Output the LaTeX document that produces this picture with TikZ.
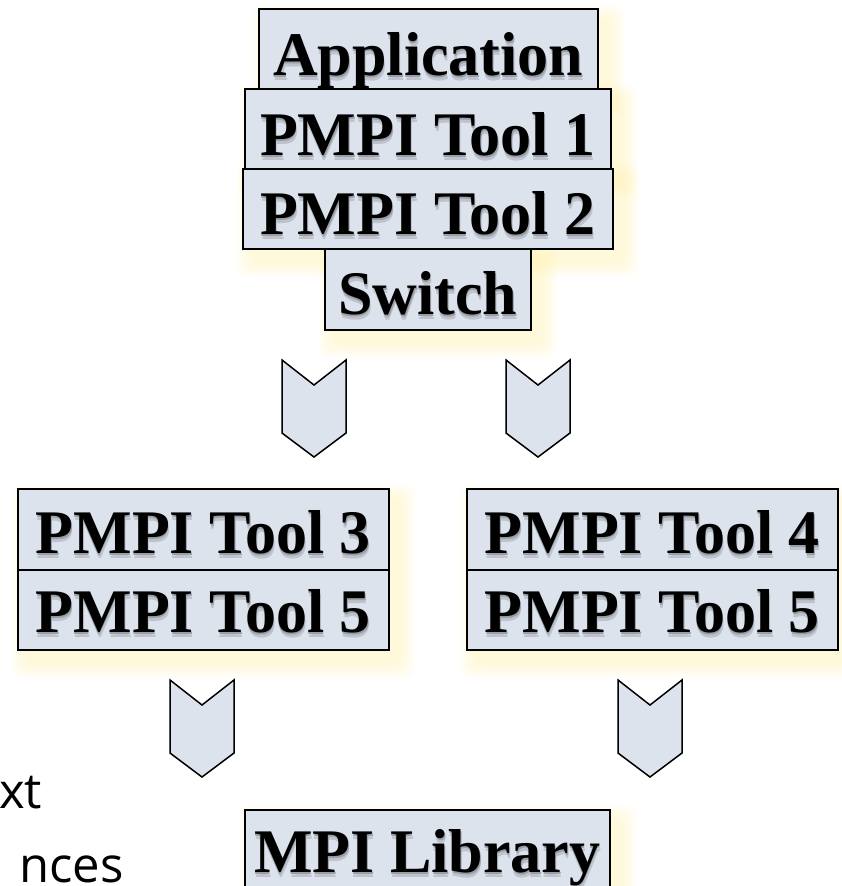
\documentclass[tikz,border=0pt]{standalone}
\usepackage{fontspec}
\setmainfont{Liberation Serif}
\newfontfamily\labelsans{Open Sans}
\usetikzlibrary{calc,backgrounds}

\definecolor{layerfill}{RGB}{220,227,237}
\definecolor{glowc}{RGB}{255,236,150}
\colorlet{txtshadeA}{layerfill!86!black}
\colorlet{txtshadeB}{layerfill!70!black}

% bold label with a soft grey drop shadow underneath
\newcommand{\shadedlabel}[1]{%
  \makebox[0pt][l]{\hspace*{1pt}\raisebox{-4.5pt}{\textcolor{txtshadeA}{#1}}}%
  \makebox[0pt][l]{\hspace*{0.5pt}\raisebox{-2.2pt}{\textcolor{txtshadeB}{#1}}}%
  #1}

% pale yellow halo below and right of a block (from node #1 to node #2)
\newcommand{\glowbox}[2]{%
  \foreach \g in {1,...,8}{
    \fill[glowc, opacity=0.05, rounded corners=10pt]
      ($(#1.north west)+(10-\g*2, 12-\g*2)$) rectangle
      ($(#2.south east)+(10+\g*2, 12+\g*2)$);
  }}

\tikzset{
  layer/.style={draw=black, line width=1.5pt, fill=layerfill, inner sep=0pt,
    anchor=north west, minimum height=80pt, text height=66pt, text depth=14pt,
    font=\fontsize{62}{62}\selectfont\bfseries},
  chevron/.pic={
    \draw[line width=1.5pt, fill=layerfill, line join=miter]
      (-32,0) -- (0,25) -- (32,0) -- (32,73) -- (0,97) -- (-32,73) -- cycle;
  },
  fragment/.style={anchor=base west, inner sep=0pt,
    font=\labelsans\fontsize{49}{49}\selectfont}
}

\begin{document}
\begin{tikzpicture}[x=1pt, y=-1pt]
  \useasboundingbox (0,0) rectangle (841,886);

  % top stack
  \node[layer, minimum width=339pt, text height=67pt, text depth=13pt] (app) at (258,8) {\shadedlabel{Application}};
  \node[layer, minimum width=366pt, text height=67pt, text depth=13pt] (t1) at (244,88) {\shadedlabel{PMPI Tool 1}};
  \node[layer, minimum width=370pt] (t2) at (242,168) {\shadedlabel{PMPI Tool 2}};
  \node[layer, minimum width=206pt, minimum height=81pt, text height=66pt, text depth=15pt] (sw) at (324,248) {\shadedlabel{Switch}};

  % two branches
  \node[layer, minimum width=371pt, minimum height=81pt, text height=65pt, text depth=16pt] (t3) at (17,488) {\shadedlabel{PMPI Tool 3}};
  \node[layer, minimum width=371pt, text height=63pt, text depth=17pt] (t3b) at (17,569) {\shadedlabel{PMPI Tool 5}};
  \node[layer, minimum width=371pt, minimum height=81pt, text height=65pt, text depth=16pt] (t4) at (466,488) {\shadedlabel{PMPI Tool 4}};
  \node[layer, minimum width=371pt, text height=63pt, text depth=17pt] (t4b) at (466,569) {\shadedlabel{PMPI Tool 5}};

  % bottom
  \node[layer, minimum width=365pt, text height=63pt, text depth=17pt] (mpi) at (244,809) {\shadedlabel{MPI Library}};

  % block arrows
  \pic (chA) at (314,360) {chevron};
  \pic (chB) at (538,360) {chevron};
  \pic (chC) at (202,680) {chevron};
  \pic (chD) at (650,680) {chevron};

  % partly hidden body text at the left edge
  \node[fragment] (ctx) at (-1,808) {xt};
  \node[fragment] (inst) at (19,882) {nces};

  \begin{scope}[on background layer]
    \glowbox{app}{app}
    \glowbox{t1}{t1}
    \glowbox{t2}{t2}
    \glowbox{sw}{sw}
    \glowbox{t3}{t3b}
    \glowbox{t4}{t4b}
    \glowbox{mpi}{mpi}
  \end{scope}
\end{tikzpicture}
\end{document}
